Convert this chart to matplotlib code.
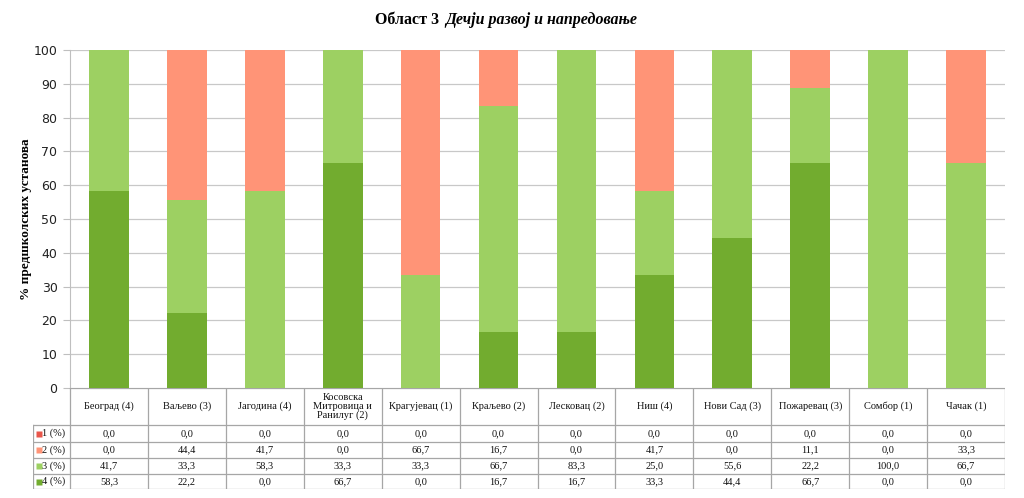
import numpy as np
import matplotlib.pyplot as plt

cities = ["Београд (4)", "Ваљево (3)", "Јагодина (4)", "Косовска\nМитровица и\nРанилуг (2)",
          "Крагујевац (1)", "Краљево (2)", "Лесковац (2)", "Ниш (4)", "Нови Сад (3)",
          "Пожаревац (3)", "Сомбор (1)", "Чачак (1)"]
s1 = [0.0, 0.0, 0.0, 0.0, 0.0, 0.0, 0.0, 0.0, 0.0, 0.0, 0.0, 0.0]
s2 = [0.0, 44.4, 41.7, 0.0, 66.7, 16.7, 0.0, 41.7, 0.0, 11.1, 0.0, 33.3]
s3 = [41.7, 33.3, 58.3, 33.3, 33.3, 66.7, 83.3, 25.0, 55.6, 22.2, 100.0, 66.7]
s4 = [58.3, 22.2, 0.0, 66.7, 0.0, 16.7, 16.7, 33.3, 44.4, 66.7, 0.0, 0.0]
series_names = ["1 (%)", "2 (%)", "3 (%)", "4 (%)"]
colors = ["#E9564B", "#FF9477", "#9DD062", "#72AC2F"]

W, H = 1024, 498
fig = plt.figure(figsize=(W / 100, H / 100), dpi=100)

def px(x0, y0, x1, y1):
    # pixel box -> figure fraction
    return [x0 / W, 1 - y1 / H, (x1 - x0) / W, (y1 - y0) / H]

left, right, top, base = 70, 1005, 50, 388
ax = fig.add_axes(px(left, top, right, base))
x = np.arange(len(cities))
bottom = np.zeros(len(cities))
for vals, c in zip([s4, s3, s2, s1], colors[::-1]):
    ax.bar(x, vals, 0.51, bottom=bottom, color=c, zorder=3)
    bottom += np.array(vals)

ax.set_xlim(-0.5, len(cities) - 0.5)
ax.set_ylim(0, 100)
ax.set_yticks(range(0, 101, 10))
ax.set_xticks([])
ax.grid(axis="y", color="#C8C8C8", lw=0.9, zorder=0)
for s in ["top", "right", "bottom"]:
    ax.spines[s].set_visible(False)
ax.spines["left"].set_color("#BFBFBF")
ax.tick_params(axis="y", length=5, color="#BFBFBF", labelsize=9, pad=4, labelcolor="#222222")
for lab in ax.get_yticklabels():
    lab.set_fontfamily("DejaVu Sans")
ax.set_ylabel("% предшколских установа", fontfamily="Liberation Serif",
              fontweight="bold", fontsize=9.5, labelpad=1)

# title
fig.text(443 / W, 1 - 20 / H, "Област 3 ", ha="right", va="center",
         fontfamily="Liberation Serif", fontweight="bold", fontsize=11.5)
fig.text(445 / W, 1 - 20 / H, "Дечји развој и напредовање", ha="left", va="center",
         fontfamily="Liberation Serif", fontweight="bold", fontstyle="italic", fontsize=11.5)

# data table below the axes
tl, tb = 33, 489
tax = fig.add_axes(px(tl, base, right, tb))
tax.set_xlim(tl, right)
tax.set_ylim(tb, base)
tax.axis("off")
lc = "#A6A6A6"
rows_y = [base, 425, 442, 458, 474, 489]
colw = (right - left) / len(cities)
col_x = [left + i * colw for i in range(len(cities) + 1)]
# horizontal lines
tax.plot([left, right], [base, base], color=lc, lw=0.9)
for yy in rows_y[1:]:
    tax.plot([tl, right], [yy, yy], color=lc, lw=0.9)
for xx in col_x:
    tax.plot([xx, xx], [base, tb], color=lc, lw=0.9)
tax.plot([tl, tl], [rows_y[1], tb], color=lc, lw=0.9)

tfont = dict(fontfamily="Liberation Serif", fontsize=7.5, color="#111111")
for i, name in enumerate(cities):
    cx = (col_x[i] + col_x[i + 1]) / 2
    tax.text(cx, (rows_y[0] + rows_y[1]) / 2, name, ha="center", va="center",
             linespacing=1.0, **tfont)
    for r, vals in enumerate([s1, s2, s3, s4]):
        cy = (rows_y[r + 1] + rows_y[r + 2]) / 2
        tax.text(cx, cy, f"{vals[i]:.1f}".replace(".", ","), ha="center", va="center", **tfont)
for r, (nm, c) in enumerate(zip(series_names, colors)):
    cy = (rows_y[r + 1] + rows_y[r + 2]) / 2
    tax.plot([39], [cy], marker="s", ms=4.5, color=c, mec="none")
    tax.text(42.5, cy, nm, ha="left", va="center", **tfont)

fig.savefig("out.png", dpi=100)
